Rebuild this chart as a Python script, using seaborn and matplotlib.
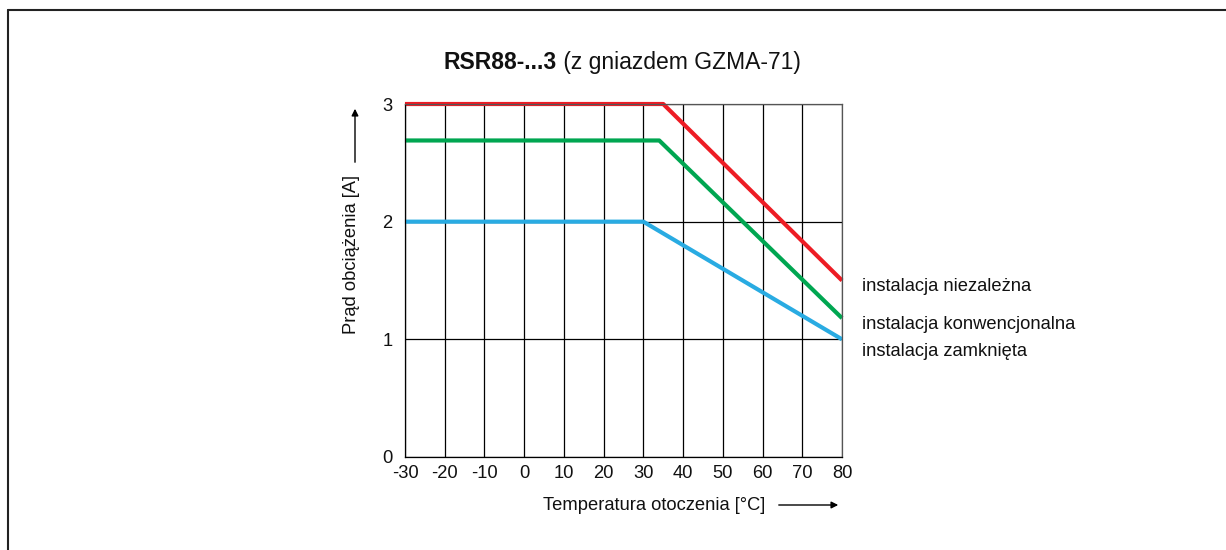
import matplotlib
matplotlib.use("Agg")
import matplotlib.pyplot as plt
import seaborn as sns
import pandas as pd

# Data
temp_red = [-30, 35, 80]
curr_red = [3.0, 3.0, 1.5]
temp_green = [-30, 34, 80]
curr_green = [2.69, 2.69, 1.18]
temp_blue = [-30, 30, 80]
curr_blue = [2.0, 2.0, 1.0]
series_names = ["instalacja niezależna", "instalacja konwencjonalna", "instalacja zamknięta"]
colors = ["#ED1C24", "#00A651", "#29ABE2"]
x_ticks = [-30, -20, -10, 0, 10, 20, 30, 40, 50, 60, 70, 80]
y_ticks = [0, 1, 2, 3]

df = pd.concat([
    pd.DataFrame({"T": temp_red, "I": curr_red, "s": series_names[0]}),
    pd.DataFrame({"T": temp_green, "I": curr_green, "s": series_names[1]}),
    pd.DataFrame({"T": temp_blue, "I": curr_blue, "s": series_names[2]}),
])

sns.set_theme(style="white")
plt.rcParams['font.family'] = ['Liberation Sans', 'DejaVu Sans']

FS = 13.2
fig = plt.figure(figsize=(12.26, 5.5), dpi=100)
ax = fig.add_axes([0.3303, 0.1691, 0.6868 - 0.3303, 0.8109 - 0.1691])

ax.set_xlim(-30, 80)
ax.set_ylim(0, 3)
ax.set_xticks(x_ticks)
ax.set_yticks(y_ticks)
ax.set_xticklabels([str(v) for v in x_ticks], fontsize=FS, color="#111111")
ax.set_yticklabels([str(v) for v in y_ticks], fontsize=FS, color="#111111")
ax.tick_params(axis="x", length=0, pad=6)
ax.tick_params(axis="y", length=0, pad=9)
ax.grid(True, color="black", linewidth=0.9)
ax.set_axisbelow(True)
for side, sp in ax.spines.items():
    sp.set_color("#555555")
    sp.set_linewidth(0.9)
ax.spines["left"].set_color("black")
ax.spines["bottom"].set_color("black")

sns.lineplot(data=df, x="T", y="I", hue="s", palette=colors, linewidth=3,
             ax=ax, legend=False, sort=False, estimator=None, clip_on=False,
             solid_capstyle="butt")
ax.set_xlabel("")
ax.set_ylabel("")

# Right labels
label_y = [1.45, 1.13, 0.9]
for name, yy in zip(series_names, label_y):
    ax.text(85.0, yy, name, fontsize=FS, va="center", ha="left", color="#111111")

# Title
tx = 557 / 1226
ty = 1 - 62 / 550
fig.text(tx, ty, "RSR88-...3", fontsize=16.5, fontweight="bold", ha="right", va="center", color="#111111")
fig.text(tx, ty, " (z gniazdem GZMA-71)", fontsize=16.5, ha="left", va="center", color="#111111")

# Axis labels with arrows
fig.text(654 / 1226, 1 - 505 / 550, "Temperatura otoczenia [°C]", fontsize=FS, ha="center", va="center", color="#111111")
fig.add_artist(matplotlib.patches.FancyArrowPatch((776 / 1226, 1 - 505 / 550), (841 / 1226, 1 - 505 / 550),
               transform=fig.transFigure, arrowstyle="-|>", mutation_scale=10, color="black", lw=1))
fig.text(352 / 1226, 1 - 255 / 550, "Prąd obciążenia [A]", fontsize=FS, rotation=90,
         ha="center", va="center", color="#111111")
fig.add_artist(matplotlib.patches.FancyArrowPatch((355 / 1226, 1 - 165 / 550), (355 / 1226, 1 - 106 / 550),
               transform=fig.transFigure, arrowstyle="-|>", mutation_scale=10, color="black", lw=1))

# Figure frame: left and top lines only
fig.add_artist(matplotlib.lines.Line2D([7.5 / 1226, 7.5 / 1226], [0, 1 - 10 / 550], transform=fig.transFigure, color="#222222", lw=1.5))
fig.add_artist(matplotlib.lines.Line2D([7.5 / 1226, 1], [1 - 10 / 550, 1 - 10 / 550], transform=fig.transFigure, color="#222222", lw=1.5))

fig.savefig("out.png", dpi=100, facecolor="white")
